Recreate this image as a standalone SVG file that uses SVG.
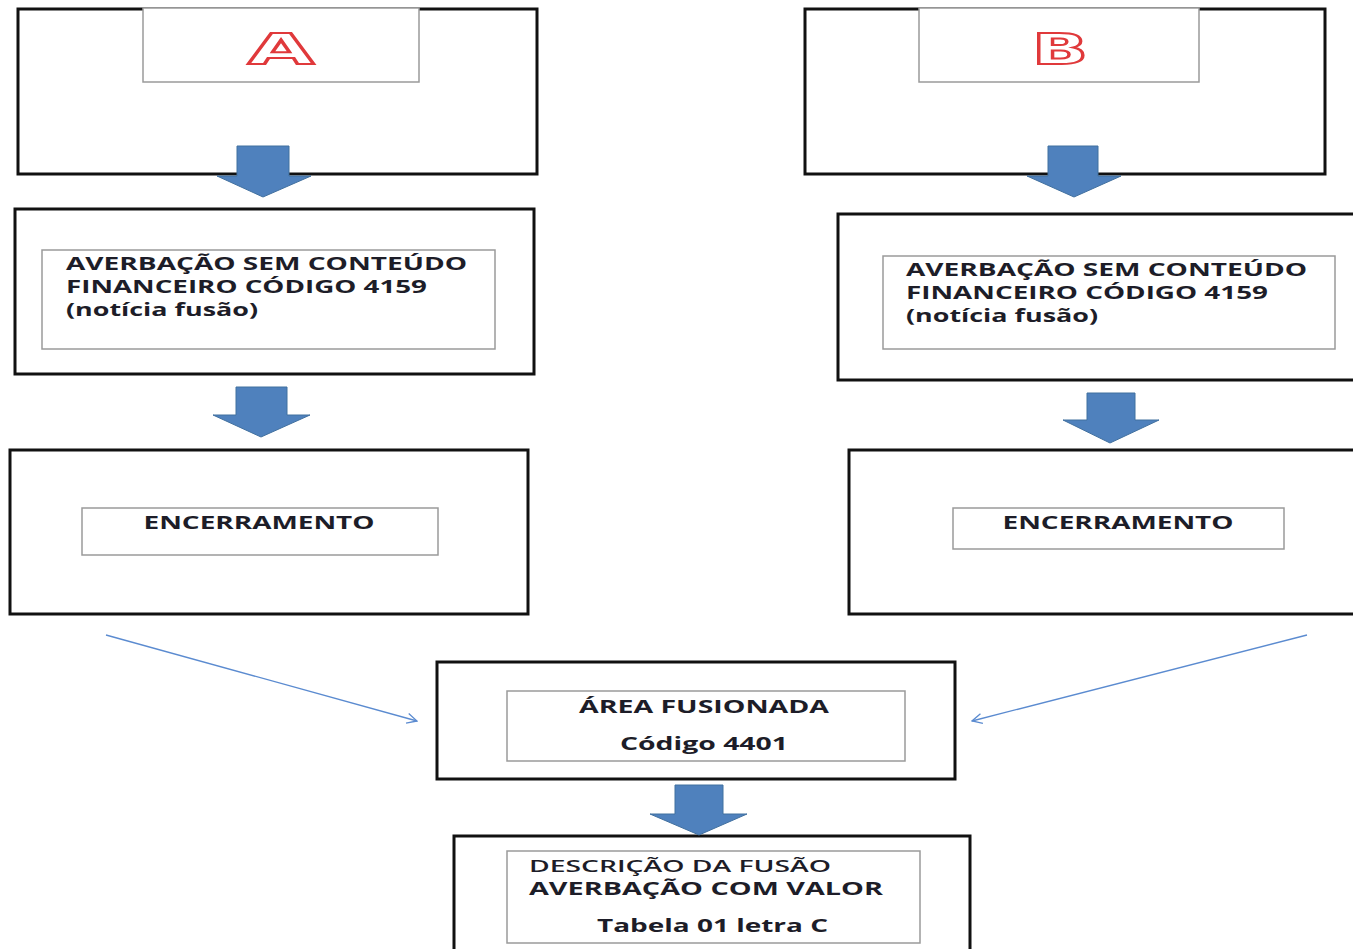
<svg xmlns="http://www.w3.org/2000/svg" width="1353" height="949" viewBox="0 0 1353 949">
<defs>
<style>
.outer{fill:#fff;stroke:#111;stroke-width:3}
.inner{fill:#fff;stroke:#9a9a9a;stroke-width:1.5}
.t{font-family:"Open Sans","Liberation Sans",sans-serif;font-weight:bold;font-size:17px;fill:#1d1d28}
.tr{font-family:"Open Sans","Liberation Sans",sans-serif;font-weight:600;font-size:17px;fill:#1d1d28}
.big{font-family:"DejaVu Sans","Liberation Sans",sans-serif;font-weight:bold;font-size:42px;fill:#fff;stroke:#e0393b;stroke-width:2}
.blk{fill:#4f81bd;stroke:#41709f;stroke-width:1}
.thin{fill:none;stroke:#5b8bd0;stroke-width:1.3}
</style>
<marker id="open" viewBox="0 0 12 12" refX="11" refY="6" markerWidth="12" markerHeight="12" markerUnits="userSpaceOnUse" orient="auto">
<path d="M1,1 L11,6 L1,11" fill="none" stroke="#5b8bd0" stroke-width="1.3"/>
</marker>
</defs>
<rect width="1353" height="949" fill="#fff"/>

<g id="nodeA">
<rect class="outer" x="18" y="9" width="519" height="165"/>
<rect class="inner" x="143" y="8" width="276" height="74"/>
<text class="big" x="281" y="64" text-anchor="middle" textLength="66" lengthAdjust="spacingAndGlyphs">A</text>
</g>
<g id="nodeB">
<rect class="outer" x="805" y="9" width="520" height="165"/>
<rect class="inner" x="919" y="8" width="280" height="74"/>
<text class="big" x="1060" y="64" text-anchor="middle" textLength="56" lengthAdjust="spacingAndGlyphs">B</text>
</g>

<g id="nodeA2">
<rect class="outer" x="15" y="209" width="519" height="165"/>
<rect class="inner" x="42" y="250" width="453" height="99"/>
<text class="t" x="66" y="270" textLength="401" lengthAdjust="spacingAndGlyphs">AVERBAÇÃO SEM CONTEÚDO</text>
<text class="t" x="66" y="293" textLength="361" lengthAdjust="spacingAndGlyphs">FINANCEIRO CÓDIGO 4159</text>
<text class="t" x="66" y="316" textLength="192" lengthAdjust="spacingAndGlyphs">(notícia fusão)</text>
</g>
<g id="nodeB2">
<rect class="outer" x="838" y="214" width="520" height="166"/>
<rect class="inner" x="883" y="256" width="452" height="93"/>
<text class="t" x="906" y="276" textLength="401" lengthAdjust="spacingAndGlyphs">AVERBAÇÃO SEM CONTEÚDO</text>
<text class="t" x="906" y="299" textLength="362" lengthAdjust="spacingAndGlyphs">FINANCEIRO CÓDIGO 4159</text>
<text class="t" x="906" y="322" textLength="192" lengthAdjust="spacingAndGlyphs">(notícia fusão)</text>
</g>

<g id="nodeA3">
<rect class="outer" x="10" y="450" width="518" height="164"/>
<rect class="inner" x="82" y="508" width="356" height="47"/>
<text class="t" x="259" y="529" text-anchor="middle" textLength="231" lengthAdjust="spacingAndGlyphs">ENCERRAMENTO</text>
</g>
<g id="nodeB3">
<rect class="outer" x="849" y="450" width="510" height="164"/>
<rect class="inner" x="953" y="508" width="331" height="41"/>
<text class="t" x="1118" y="529" text-anchor="middle" textLength="231" lengthAdjust="spacingAndGlyphs">ENCERRAMENTO</text>
</g>

<g id="nodeC">
<rect class="outer" x="437" y="662" width="518" height="117"/>
<rect class="inner" x="507" y="691" width="398" height="70"/>
<text class="t" x="704" y="713" text-anchor="middle" textLength="250" lengthAdjust="spacingAndGlyphs">ÁREA FUSIONADA</text>
<text class="t" x="704" y="750" text-anchor="middle" textLength="168" lengthAdjust="spacingAndGlyphs">Código 4401</text>
</g>

<g id="nodeD">
<rect class="outer" x="454" y="836" width="516" height="120"/>
<rect class="inner" x="507" y="851" width="413" height="92"/>
<text class="tr" x="529" y="872" textLength="302" lengthAdjust="spacingAndGlyphs">DESCRIÇÃO DA FUSÃO</text>
<text class="t" x="529" y="895" textLength="354" lengthAdjust="spacingAndGlyphs">AVERBAÇÃO COM VALOR</text>
<text class="t" x="597" y="932" textLength="231" lengthAdjust="spacingAndGlyphs">Tabela 01 letra C</text>
</g>

<g id="connectors">
<polygon class="blk" points="237,146 289,146 289,176 311,176 263,197 217,176 237,176"/>
<polygon class="blk" points="1048,146 1098,146 1098,176 1121,176 1074,197 1027,176 1048,176"/>
<polygon class="blk" points="236,387 287,387 287,415 310,415 261,437 213,415 236,415"/>
<polygon class="blk" points="1087,393 1135,393 1135,420 1159,420 1110,443 1063,420 1087,420"/>
<polygon class="blk" points="675,785 723,785 723,814 747,814 699,835 650,814 675,814"/>
<line class="thin" x1="106" y1="635" x2="417" y2="721" marker-end="url(#open)"/>
<line class="thin" x1="1307" y1="635" x2="972" y2="721" marker-end="url(#open)"/>
</g>
</svg>
